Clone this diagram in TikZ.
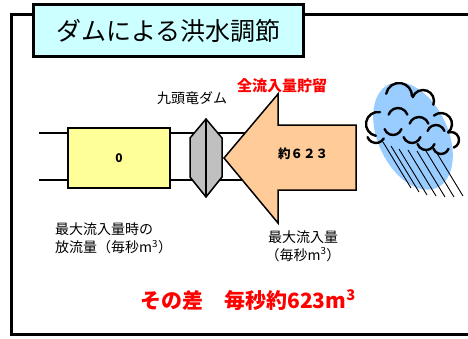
\documentclass[tikz,border=0pt]{standalone}
\usepackage{fontspec}
\setmainfont{Noto Sans CJK JP}
\definecolor{titlefill}{HTML}{CCFFFF}
\definecolor{boxyellow}{HTML}{FFFF99}
\definecolor{arrowfill}{HTML}{FFCC99}
\definecolor{damgray}{HTML}{C0C0C0}
\definecolor{cloudblue}{HTML}{99CCFF}
\definecolor{redtext}{HTML}{FF0000}
\begin{document}
\begin{tikzpicture}[x=1pt,y=-1pt,
  pipe/.style={line width=1.5pt},
  outline/.style={draw=black,line width=1.5pt},
  label/.style={font=\fontsize{14}{16}\selectfont,inner sep=0pt,align=center},
  redlabel/.style={font=\fontsize{15}{17}\selectfont\bfseries,text=redtext,inner sep=0pt},
  curl/.style={line width=2.4pt,line cap=round},
  rain/.style={line width=0.9pt}]
\useasboundingbox (0,0) rectangle (468,338);
\clip (0,0) rectangle (468,338);
% outer frame
\draw[line width=3pt] (11.5,14) rectangle (490,334);
% title
\node[draw=black,line width=2.6pt,fill=titlefill,minimum width=270pt,minimum height=52pt,inner sep=0pt,
  font=\fontsize{25}{28}\selectfont] (title) at (168.5,30.5) {ダムによる洪水調節};
% pipe lines
\coordinate (pl1) at (39,133);
\coordinate (pl2) at (39,180);
\coordinate (pr1) at (246,133);
\coordinate (pr2) at (246,180);
\draw[pipe] (pl1) -- (pr1);
\draw[pipe] (pl2) -- (pr2);
% yellow box
\node[outline,fill=boxyellow,minimum width=102pt,minimum height=60pt,inner sep=0pt,
  font=\fontsize{12}{14}\selectfont\bfseries] (outbox) at (119,158) {0};
% dam
\coordinate (dtop) at (206,119);
\coordinate (dbot) at (206,197);
\draw[outline,fill=damgray,line join=miter] (dtop) -- (222,138) -- (222,177) -- (dbot) -- (190,177) -- (190,138) -- cycle;
\draw[line width=1.5pt] (dtop) -- (dbot);
% inflow arrow
\coordinate (tip) at (224,158);
\draw[outline,fill=arrowfill,line join=miter] (tip) -- (278,94) -- (278,125) -- (356,125) -- (356,190) -- (278,190) -- (278,223) -- cycle;
\node[font=\fontsize{12.5}{14}\selectfont\bfseries,inner sep=0pt] (inflow) at (303,154) {約６２３};
% labels
\node[label] (damname) at (192,98) {九頭竜ダム};
\node[redlabel] (store) at (282,86) {全流入量貯留};
\node[label,align=left,anchor=north west] (outlabel) at (55,223) {最大流入量時の\\[2pt]放流量（毎秒m\textsuperscript{3}）};
\node[label] (inlabel) at (303,246) {最大流入量\\[2pt]（毎秒m\textsuperscript{3}）};
\node[font=\fontsize{21}{24}\selectfont\bfseries,text=redtext,inner sep=0pt] (diff) at (248,300) {その差　毎秒約623m\textsuperscript{3}};
% cloud
\fill[cloudblue,rotate around={25:(413,136)}] (413,136) ellipse (35 and 57);
\foreach \a/\b in {383/142,391/146,399/149,408/150,417/151,426/151,435/150}{
  \draw[rain] (\a,\b) -- ++(28,46);
}
\foreach \cx/\cy/\r/\s/\e in {
  399/96/13/190/360,
  423/101/11/200/380,
  441/124/11/230/410,
  451/140/8/250/430,
  378/124/12/280/100,
  398/118/10/200/340,
  419/127/10/200/340,
  436/134/9/200/340,
  393/126/9/20/160,
  412/134/9/20/160,
  426/141/9/20/160,
  441/146/8/20/160,
  376/134/9/30/160}{
  \draw[curl] ([shift={(\s:\r)}]\cx,\cy) arc[start angle=\s,end angle=\e,radius=\r];
}
\end{tikzpicture}
\end{document}
